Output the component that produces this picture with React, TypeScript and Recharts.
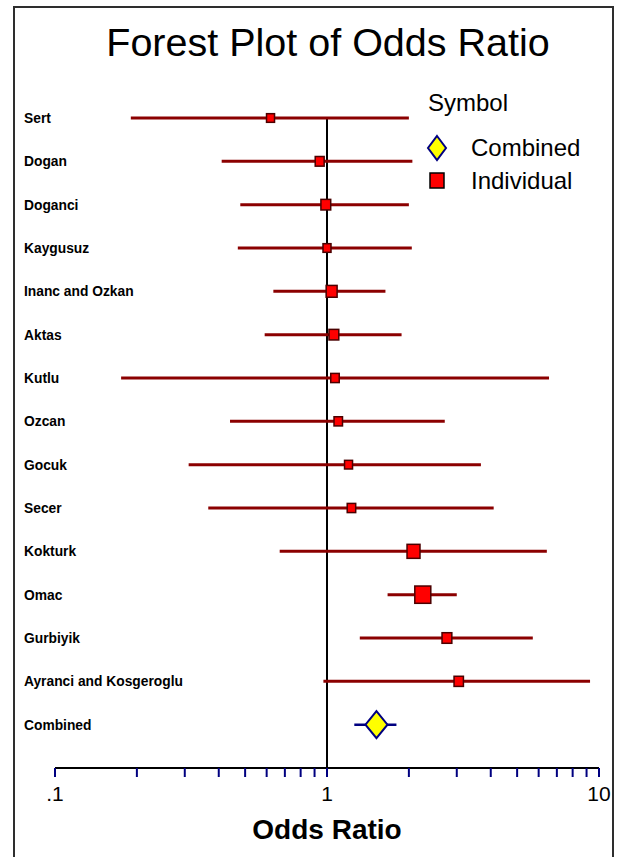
import React from 'react';
import { ScatterChart, Scatter, XAxis, YAxis, ErrorBar, ReferenceLine, Legend } from 'recharts';

// ---- data ----
const studies = [
  'Sert', 'Dogan', 'Doganci', 'Kaygusuz', 'Inanc and Ozkan', 'Aktas', 'Kutlu',
  'Ozcan', 'Gocuk', 'Secer', 'Kokturk', 'Omac', 'Gurbiyik', 'Ayranci and Kosgeroglu',
];
const oddsRatios = [0.62, 0.94, 0.99, 1.0, 1.04, 1.06, 1.07, 1.1, 1.2, 1.23, 2.08, 2.25, 2.76, 3.05];
const lowerCI = [0.19, 0.41, 0.48, 0.47, 0.635, 0.59, 0.175, 0.44, 0.31, 0.366, 0.67, 1.67, 1.32, 0.97];
const upperCI = [2.0, 2.06, 2.0, 2.05, 1.64, 1.88, 6.55, 2.71, 3.68, 4.1, 6.43, 3.0, 5.71, 9.27];
const weights = [4, 5, 6, 4, 7.5, 6, 4.5, 4.5, 4, 4.5, 10.5, 16, 6, 5.5];

const combinedLabel = 'Combined';
const combinedOR = 1.52;
const combinedLower = 1.26;
const combinedUpper = 1.8;

const xTicks = [0.1, 0.2, 0.3, 0.4, 0.5, 0.6, 0.7, 0.8, 0.9, 1, 2, 3, 4, 5, 6, 7, 8, 9, 10];
const xTickLabels: Record<string, string> = { '0.1': '.1', '1': '1', '10': '10' };

const rowLabels = [...studies, combinedLabel];
const rowTicks = rowLabels.map((_, i) => i);

const individualData = studies.map((name, i) => ({
  row: i,
  name,
  or: oddsRatios[i],
  err: [oddsRatios[i] - lowerCI[i], upperCI[i] - oddsRatios[i]],
  w: weights[i],
}));
const combinedData = [
  {
    row: studies.length,
    name: combinedLabel,
    or: combinedOR,
    err: [combinedOR - combinedLower, combinedUpper - combinedOR],
  },
];

const FONT = '"Liberation Sans", Arial, sans-serif';

const SquareShape = (props: any) => {
  const { cx, cy, payload } = props;
  const s = 4 * Math.sqrt(payload.w);
  const h = s * 1.08;
  return (
    <rect x={cx - s / 2} y={cy - h / 2} width={s} height={h} fill="#ff0000" stroke="#4a0000" strokeWidth={1.5} />
  );
};

const DiamondShape = (props: any) => {
  const { cx, cy } = props;
  const hw = 11;
  const hh = 13.5;
  return (
    <path
      d={`M${cx},${cy - hh} L${cx + hw},${cy} L${cx},${cy + hh} L${cx - hw},${cy} Z`}
      fill="#ffff00"
      stroke="#000080"
      strokeWidth={2}
    />
  );
};

const RowTick = (props: any) => {
  const { y, payload } = props;
  return (
    <text x={24} y={y} dy="0.36em" textAnchor="start" fontFamily={FONT} fontWeight="bold" fontSize={13.8} fill="#000">
      {rowLabels[payload.value]}
    </text>
  );
};

const LegendContent = () => (
  <svg width={190} height={115}>
    <text x={8} y={27} fontFamily={FONT} fontSize={24} fill="#000">Symbol</text>
    <path d="M17,52 L26,64 L17,76 L8,64 Z" fill="#ffff00" stroke="#000080" strokeWidth={2} />
    <text x={51} y={72} fontFamily={FONT} fontSize={24} fill="#000">Combined</text>
    <rect x={10} y={89} width={14} height={15} fill="#ff0000" stroke="#000" strokeWidth={1.5} />
    <text x={51} y={105} fontFamily={FONT} fontSize={24} fill="#000">Individual</text>
  </svg>
);

export default function App() {
  return (
    <div style={{ position: 'absolute', left: 0, top: 0, width: 617, height: 857, overflow: 'hidden', background: '#fff' }}>
      <div
        style={{
          position: 'absolute',
          left: 13,
          top: 6,
          width: 597,
          height: 900,
          border: '2px solid #2e2e2e',
        }}
      />
      <svg style={{ position: 'absolute', left: 0, top: 0 }} width={617} height={80}>
        <text x={328} y={56} textAnchor="middle" fontFamily={FONT} fontSize={39.5} fill="#000">
          Forest Plot of Odds Ratio
        </text>
      </svg>
      <div style={{ position: 'absolute', left: 0, top: 0 }}>
        <ScatterChart width={617} height={857} margin={{ top: 118, right: 18, bottom: 59, left: 10 }}>
          <XAxis
            type="number"
            dataKey="or"
            scale="log"
            domain={[0.1, 10]}
            ticks={xTicks}
            interval={0}
            allowDataOverflow
            tickFormatter={(v: number) => xTickLabels[String(v)] ?? ''}
            axisLine={{ stroke: '#000', strokeWidth: 2 }}
            tickLine={{ stroke: '#000080', strokeWidth: 2 }}
            tickSize={9}
            tickMargin={9}
            tick={{ fontFamily: FONT, fontSize: 21, fill: '#000' }}
            height={30}
            label={{ value: 'Odds Ratio', position: 'bottom', offset: 21, fontFamily: FONT, fontSize: 28, fontWeight: 'bold', fill: '#000' }}
          />
          <YAxis
            type="number"
            dataKey="row"
            domain={[0, 15]}
            reversed
            ticks={rowTicks}
            interval={0}
            width={45}
            axisLine={false}
            tickLine={false}
            tick={<RowTick />}
          />
          <ReferenceLine x={1} stroke="#000" strokeWidth={2} />
          <Scatter data={individualData} shape={<SquareShape />} isAnimationActive={false} name="Individual">
            <ErrorBar dataKey="err" direction="x" width={0} stroke="#8b0000" strokeWidth={3} />
          </Scatter>
          <Scatter data={combinedData} shape={<DiamondShape />} isAnimationActive={false} name="Combined">
            <ErrorBar dataKey="err" direction="x" width={0} stroke="#000080" strokeWidth={2.5} />
          </Scatter>
          <Legend
            layout="horizontal"
            verticalAlign="middle"
            align="center"
            content={<LegendContent />}
            wrapperStyle={{ position: 'absolute', left: 420, top: 84, width: 190, height: 115 }}
          />
        </ScatterChart>
      </div>
    </div>
  );
}
